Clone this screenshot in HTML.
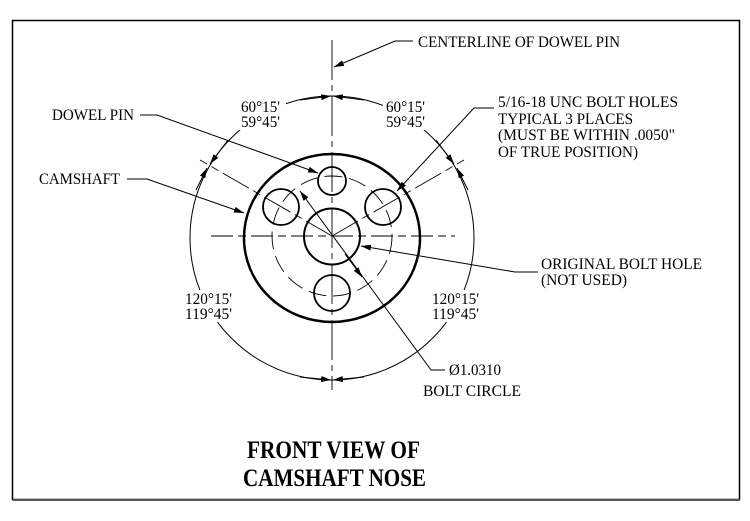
<!DOCTYPE html>
<html><head><style>
html,body{margin:0;padding:0;background:#fff;}
svg{display:block;}
text{font-family:"Liberation Serif",serif;font-size:16px;fill:#000;}
.t{font-size:25px;font-weight:bold;}
</style></head><body>
<svg width="750" height="521" viewBox="0 0 750 521" xmlns="http://www.w3.org/2000/svg">
<defs>
<marker id="a" viewBox="0 0 10 6" refX="10" refY="3" markerWidth="10" markerHeight="6" markerUnits="userSpaceOnUse" orient="auto">
<path d="M0,0 L10,3 L0,6 z" fill="#000"/></marker>
</defs>
<rect x="12.5" y="20.5" width="727" height="479" fill="none" stroke="#000" stroke-width="1.5"/>
<rect x="13" y="499" width="727" height="2" fill="#555"/>
<g stroke="#000" fill="none">
<circle cx="332" cy="238" r="142" stroke-width="1"/>
<line x1="332" y1="40" x2="332" y2="390" stroke-width="0.9" stroke-dasharray="40,5,6,5"/>
<line x1="211" y1="236" x2="455" y2="236" stroke-width="0.9" stroke-dasharray="22,5,8,5"/>
<line x1="332" y1="236" x2="200" y2="160" stroke-width="0.9" stroke-dasharray="30,5,8,5"/>
<line x1="332" y1="236" x2="464" y2="160" stroke-width="0.9" stroke-dasharray="30,5,8,5"/>
<circle cx="332" cy="236" r="60" stroke-width="0.9" stroke-dasharray="18,7"/>
<ellipse cx="332" cy="238" rx="88" ry="84" stroke-width="2.5"/>
<circle cx="332" cy="236.5" r="28" stroke-width="2"/>
<circle cx="332" cy="181" r="14" stroke-width="1.8"/>
<circle cx="281" cy="207" r="18" stroke-width="1.8"/>
<circle cx="383" cy="207" r="18" stroke-width="1.8"/>
<circle cx="332" cy="293" r="18" stroke-width="1.8"/>
<g stroke-width="1">
<polyline points="413,41 395,41 334,67" marker-end="url(#a)"/>
<polyline points="140,115 157,115 318,173" marker-end="url(#a)"/>
<polyline points="127,179 147,179 244,213" marker-end="url(#a)"/>
<polyline points="494,108 474,108 397,191" marker-end="url(#a)"/>
<polyline points="538,272 515,272 361,246" marker-end="url(#a)"/>
<polyline points="445,370 431,370 300,191" marker-end="url(#a)"/>
<line x1="345" y1="254" x2="362" y2="277" marker-end="url(#a)"/>
<line x1="300" y1="100" x2="331" y2="96" marker-end="url(#a)"/>
<line x1="364" y1="100" x2="333" y2="96" marker-end="url(#a)"/>
<line x1="300" y1="377" x2="331" y2="380" marker-end="url(#a)"/>
<line x1="364" y1="377" x2="333" y2="380" marker-end="url(#a)"/>
<line x1="228" y1="140" x2="210" y2="164" marker-end="url(#a)"/>
<line x1="436" y1="140" x2="454" y2="164" marker-end="url(#a)"/>
<line x1="196" y1="190" x2="207" y2="168" marker-end="url(#a)"/>
<line x1="468" y1="190" x2="457" y2="168" marker-end="url(#a)"/>
</g>
</g>
<g fill="#fff">
<rect x="238" y="98" width="48" height="32"/>
<rect x="383" y="98" width="48" height="32"/>
<rect x="182" y="290" width="54" height="32"/>
<rect x="429" y="290" width="54" height="32"/>
</g>
<text x="241" y="112" textLength="39" lengthAdjust="spacingAndGlyphs">60°15'</text>
<text x="241" y="127" textLength="39" lengthAdjust="spacingAndGlyphs">59°45'</text>
<text x="386" y="112" textLength="39" lengthAdjust="spacingAndGlyphs">60°15'</text>
<text x="386" y="127" textLength="39" lengthAdjust="spacingAndGlyphs">59°45'</text>
<text x="185" y="304" textLength="47" lengthAdjust="spacingAndGlyphs">120°15'</text>
<text x="185" y="319" textLength="47" lengthAdjust="spacingAndGlyphs">119°45'</text>
<text x="432" y="304" textLength="47" lengthAdjust="spacingAndGlyphs">120°15'</text>
<text x="432" y="319" textLength="47" lengthAdjust="spacingAndGlyphs">119°45'</text>
<text x="418" y="47" textLength="202" lengthAdjust="spacingAndGlyphs">CENTERLINE OF DOWEL PIN</text>
<text x="52" y="120" textLength="82" lengthAdjust="spacingAndGlyphs">DOWEL PIN</text>
<text x="39" y="184" textLength="81" lengthAdjust="spacingAndGlyphs">CAMSHAFT</text>
<text x="498" y="107" textLength="180" lengthAdjust="spacingAndGlyphs">5/16-18 UNC BOLT HOLES</text>
<text x="498" y="124" textLength="135" lengthAdjust="spacingAndGlyphs">TYPICAL 3 PLACES</text>
<text x="498" y="140" textLength="177" lengthAdjust="spacingAndGlyphs">(MUST BE WITHIN .0050"</text>
<text x="498" y="157" textLength="140" lengthAdjust="spacingAndGlyphs">OF TRUE POSITION)</text>
<text x="541" y="269" textLength="161" lengthAdjust="spacingAndGlyphs">ORIGINAL BOLT HOLE</text>
<text x="541" y="285" textLength="86" lengthAdjust="spacingAndGlyphs">(NOT USED)</text>
<text x="449" y="375" textLength="52" lengthAdjust="spacingAndGlyphs">Ø1.0310</text>
<text x="423" y="396" textLength="98" lengthAdjust="spacingAndGlyphs">BOLT CIRCLE</text>
<text class="t" x="247" y="458" textLength="173" lengthAdjust="spacingAndGlyphs">FRONT VIEW OF</text>
<text class="t" x="243" y="486" textLength="183" lengthAdjust="spacingAndGlyphs">CAMSHAFT NOSE</text>
</svg>
</body></html>
